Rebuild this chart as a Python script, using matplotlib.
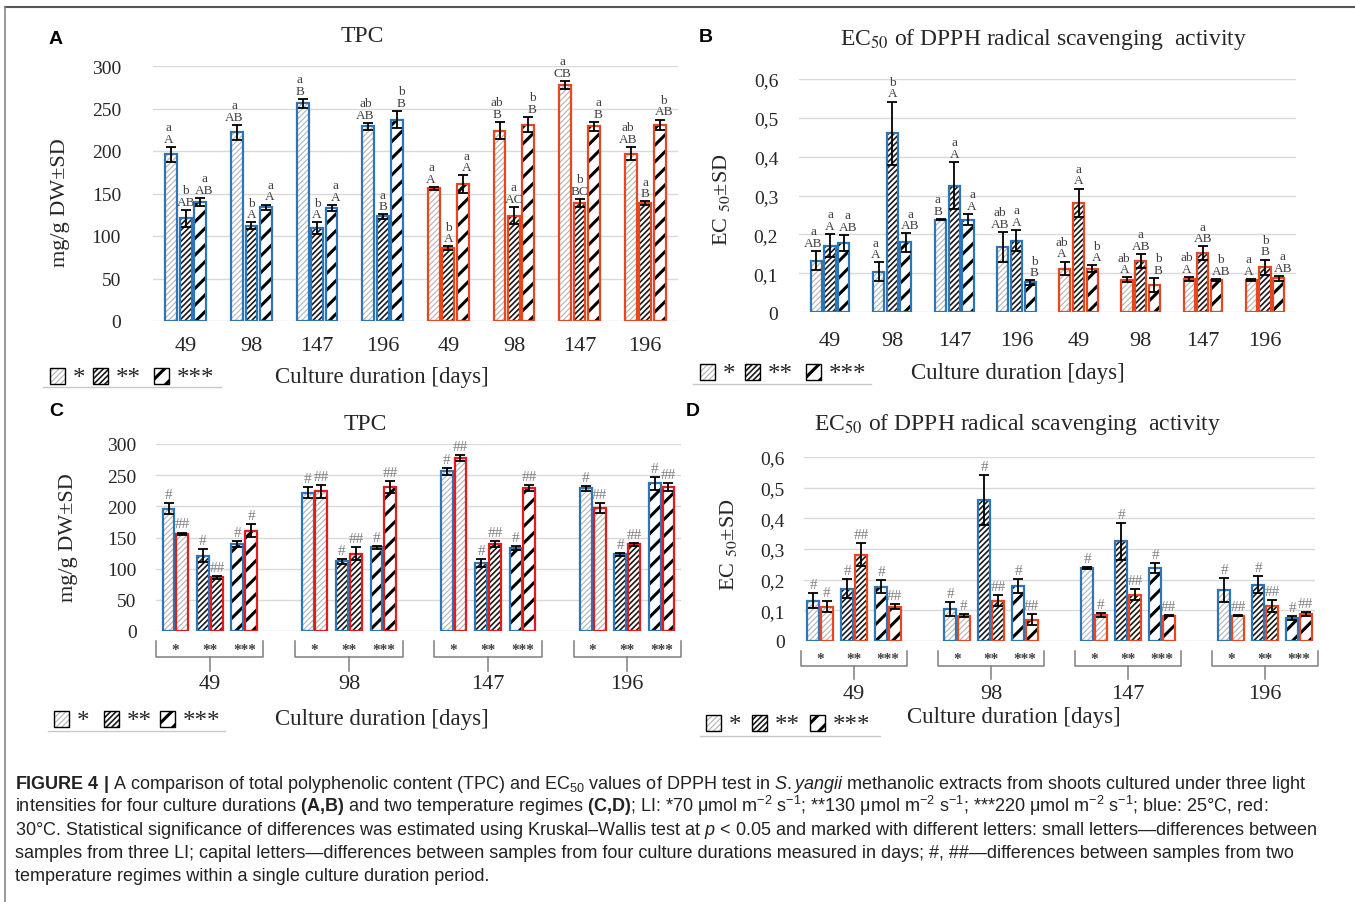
"""
Figure 4: TPC and EC50 (DPPH) of S. yangii shoot extracts, four panels + caption.
"""
import numpy as np
import matplotlib
matplotlib.use("Agg")
import matplotlib.pyplot as plt
import matplotlib.transforms as mtransforms
from matplotlib.patches import Rectangle
from matplotlib.lines import Line2D

plt.rcParams.update({
    "font.family": "Liberation Serif",
    "mathtext.rm": "Liberation Sans",
    "mathtext.it": "Liberation Sans:italic",
    "mathtext.bf": "Liberation Sans:bold",
})

# ---------------------------------------------------------------- data
days = ["49", "98", "147", "196"]
li_names = ["*", "**", "***"]

# rows = light intensity (*, **, ***), columns = culture duration
tpc_25 = [[196, 222, 256, 229], [121, 112, 109, 123], [140, 134, 133, 237]]
tpc_25_sd = [[9, 9, 5.5, 4], [10, 4, 7, 2.5], [5, 3, 3.5, 10]]
tpc_30 = [[156, 224, 278, 197], [86, 124, 139, 139], [161, 231, 229, 231]]
tpc_30_sd = [[2, 10, 4.5, 8], [2, 10, 5, 2], [10.5, 9, 5, 6]]

ec_25 = [[0.132, 0.104, 0.238, 0.167], [0.171, 0.46, 0.325, 0.184],
         [0.177, 0.179, 0.238, 0.076]]
ec_25_sd = [[0.025, 0.024, 0.002, 0.039], [0.03, 0.082, 0.061, 0.028],
            [0.021, 0.024, 0.015, 0.006]]
ec_30 = [[0.112, 0.083, 0.085, 0.083], [0.281, 0.132, 0.151, 0.115],
         [0.112, 0.07, 0.083, 0.087]]
ec_30_sd = [[0.018, 0.006, 0.006, 0.003], [0.037, 0.018, 0.018, 0.02],
            [0.008, 0.018, 0.003, 0.006]]

# significance letters (small: between LI, capital: between durations)
tpc_small_25 = [["a", "a", "a", "ab"], ["b", "b", "b", "a"], ["a", "a", "a", "b"]]
tpc_cap_25 = [["A", "AB", "B", "AB"], ["AB", "A", "A", "B"], ["AB", "A", "A", "B"]]
tpc_small_30 = [["a", "ab", "a", "ab"], ["b", "a", "b", "a"], ["a", "b", "a", "b"]]
tpc_cap_30 = [["A", "B", "CB", "AB"], ["A", "AC", "BC", "B"], ["A", "B", "B", "AB"]]
ec_small_25 = [["a", "a", "a", "ab"], ["a", "b", "a", "a"], ["a", "a", "a", "b"]]
ec_cap_25 = [["AB", "A", "B", "AB"], ["A", "A", "A", "A"], ["AB", "AB", "A", "B"]]
ec_small_30 = [["ab", "ab", "ab", "a"], ["a", "a", "a", "b"], ["b", "b", "b", "a"]]
ec_cap_30 = [["A", "A", "A", "A"], ["A", "AB", "AB", "B"], ["A", "B", "AB", "AB"]]

# temperature marks for panels C and D
tpc_mark_25 = [["#"] * 4, ["#"] * 4, ["#"] * 4]
tpc_mark_30 = [["##"] * 4, ["##"] * 4, ["#", "##", "##", "##"]]
ec_mark_25 = [["#"] * 4, ["#"] * 4, ["#"] * 4]
ec_mark_30 = [["#", "#", "#", "##"], ["##"] * 4, ["##"] * 4]

tpc_ticks = [0, 50, 100, 150, 200, 250, 300]
ec_ticks = [0, 0.1, 0.2, 0.3, 0.4, 0.5, 0.6]
ec_tick_labels = ["0", "0,1", "0,2", "0,3", "0,4", "0,5", "0,6"]

# ---------------------------------------------------------------- style
W, H = 1355, 903
BLUE = "#2E75B6"
RED_O = "#E8461E"
RED_C = "#E51A1A"
HATCH = [("//////", "#b3b3b3", 0.8), ("//////", "#1a1a1a", 1.2), ("//", "#000000", 2.2)]
LETTER_C = "#404040"
MARK_C = "#808080"
LETTER_DX = [-2.0, 0, 3.0]  # points, keeps neighbouring letter stacks apart

fig = plt.figure(figsize=(W / 100, H / 100), dpi=100)


def fxy(px, py):
    return px / W, 1 - py / H


def make_ax(l, r, t, b, ymax, yticks, ylabels, xlim):
    ax = fig.add_axes([l / W, 1 - b / H, (r - l) / W, (b - t) / H])
    ax.set_ylim(0, ymax)
    ax.set_xlim(*xlim)
    for s in ax.spines.values():
        s.set_visible(False)
    ax.set_yticks(yticks, ylabels)
    ax.grid(axis="y", color="#d9d9d9", lw=1.0)
    ax.set_axisbelow(True)
    ax.tick_params(length=0, colors="#262626")
    return ax


def hatched_bars(ax, x, h, width, li, edge):
    hp, hc, hlw = HATCH[li]
    with plt.rc_context({"hatch.linewidth": hlw}):
        bars = ax.bar(x, h, width, color="white", edgecolor=hc, hatch=hp, lw=0, zorder=2)
    for b in bars:
        if hasattr(b, "set_hatch_linewidth"):
            b.set_hatch_linewidth(hlw)
    ax.bar(x, h, width, fill=False, edgecolor=edge, lw=1.6, zorder=3)


def err(ax, x, h, sd):
    ax.errorbar(x, h, yerr=sd, fmt="none", ecolor="black", elinewidth=1.3,
                capsize=3.5, capthick=1.3, zorder=4)


def legend_row(boxes, yc, line):
    for (bx, li, lab) in zip(boxes, range(3), li_names):
        hp, hc, hlw = HATCH[li]
        x0, y0 = fxy(bx, yc + 8)
        with plt.rc_context({"hatch.linewidth": hlw}):
            p = Rectangle((x0, y0), 15 / W, 16 / H, transform=fig.transFigure,
                          facecolor="white", edgecolor=hc, hatch=hp, lw=0)
        if hasattr(p, "set_hatch_linewidth"):
            p.set_hatch_linewidth(hlw)
        fig.add_artist(p)
        fig.add_artist(Rectangle((x0, y0), 15 / W, 16 / H, transform=fig.transFigure,
                                 fill=False, edgecolor="black", lw=1.0))
        tx, ty = fxy(bx + 23, yc + 2)
        fig.text(tx, ty, lab, fontsize=18, va="center", ha="left", color="#262626")
    (x1, y1), (x2, _) = fxy(line[0], line[2]), fxy(line[1], line[2])
    fig.add_artist(Line2D([x1, x2], [y1, y1], color="#c8c8c8", lw=1.0))


def ftext(px, py, s, **kw):
    x, y = fxy(px, py)
    return fig.text(x, y, s, **kw)


# ---------------------------------------------------------------- panels A and B
def panel_ab(ax, v25, s25, v30, s30, small25, cap25, small30, cap30, red):
    offs = [-0.22, 0, 0.22]
    sets = [(v25, s25, small25, cap25, BLUE, 0), (v30, s30, small30, cap30, red, 4)]
    for vals, sds, sm, cp, col, shift in sets:
        for i in range(3):
            x = np.arange(4) + shift + offs[i]
            hatched_bars(ax, x, vals[i], 0.18, i, col)
            err(ax, x, vals[i], sds[i])
            for xi, v, sd, a, b in zip(x, vals[i], sds[i], sm[i], cp[i]):
                ax.annotate(f"{a}\n{b}", (xi, v + sd), xytext=(LETTER_DX[i], 1.5),
                            textcoords="offset points", ha="center", va="bottom",
                            fontsize=9.5, color=LETTER_C, linespacing=0.95,
                            multialignment="center", zorder=5)
    ax.set_xticks(np.arange(8), days + days)
    ax.tick_params(axis="x", labelsize=16, pad=11)


axA = make_ax(153, 678, 67, 322, 300, tpc_ticks, [str(t) for t in tpc_ticks], (-0.5, 7.5))
axA.tick_params(axis="y", labelsize=14, pad=23)
panel_ab(axA, tpc_25, tpc_25_sd, tpc_30, tpc_30_sd,
         tpc_small_25, tpc_cap_25, tpc_small_30, tpc_cap_30, RED_O)

axB = make_ax(799, 1296, 80, 313, 0.6, ec_ticks, ec_tick_labels, (-0.5, 7.5))
axB.tick_params(axis="y", labelsize=14, pad=15)
panel_ab(axB, ec_25, ec_25_sd, ec_30, ec_30_sd,
         ec_small_25, ec_cap_25, ec_small_30, ec_cap_30, RED_O)
axB.tick_params(axis="x", pad=14)


# ---------------------------------------------------------------- panels C and D
def panel_cd(ax, v25, s25, v30, s30, m25, m30, red, py0, ph, star_py, brace_py):
    offs = [-0.248, 0, 0.248]
    for i in range(3):
        for vals, sds, marks, col, dx in [(v25, s25, m25, BLUE, -0.05),
                                         (v30, s30, m30, red, 0.05)]:
            x = np.arange(4) + offs[i] + dx
            hatched_bars(ax, x, vals[i], 0.086, i, col)
            err(ax, x, vals[i], sds[i])
            for xi, v, sd, m in zip(x, vals[i], sds[i], marks[i]):
                ax.annotate(m, (xi, v + sd), xytext=(0, 1.5), textcoords="offset points",
                            ha="center", va="bottom", fontsize=11, color=MARK_C, zorder=5)
    tr = mtransforms.blended_transform_factory(ax.transData, ax.transAxes)

    def ay(py):
        return (py0 - py) / ph

    top, bot, stem = brace_py
    for g in range(4):
        xs = [g - 0.385, g - 0.385, g + 0.385, g + 0.385]
        ax.plot(xs, [ay(top), ay(bot), ay(bot), ay(top)], color="#7f7f7f", lw=1.1,
                transform=tr, clip_on=False, solid_joinstyle="round")
        ax.plot([g, g], [ay(bot), ay(stem)], color="#7f7f7f", lw=1.1,
                transform=tr, clip_on=False)
        for i in range(3):
            ax.text(g + offs[i], ay(star_py), li_names[i], transform=tr, ha="center",
                    va="center", fontsize=11, color="#404040", fontweight="bold")
    ax.set_xticks(np.arange(4), days)
    ax.tick_params(axis="x", labelsize=16, pad=31)


axC = make_ax(156, 681, 445, 632, 300, tpc_ticks, [str(t) for t in tpc_ticks],
              (-0.388, 3.388))
axC.tick_params(axis="y", labelsize=14, pad=14)
panel_cd(axC, tpc_25, tpc_25_sd, tpc_30, tpc_30_sd, tpc_mark_25, tpc_mark_30, RED_C,
         632, 187, 651, (642, 658, 672))

axD = make_ax(804, 1315, 458, 642, 0.6, ec_ticks, ec_tick_labels, (-0.365, 3.365))
axD.tick_params(axis="y", labelsize=14, pad=14)
panel_cd(axD, ec_25, ec_25_sd, ec_30, ec_30_sd, ec_mark_25, ec_mark_30, RED_O,
         642, 184, 660, (652, 667, 680))

# ---------------------------------------------------------------- titles, labels, legends
tk = dict(ha="center", va="center", color="#262626")
ftext(362, 36, "TPC", fontsize=17, **tk)
ftext(1044, 40, r"EC$_{50}$ of DPPH radical scavenging  activity", fontsize=17,
      math_fontfamily="stix", **tk)
ftext(365, 425, "TPC", fontsize=17, **tk)
ftext(1018, 425, r"EC$_{50}$ of DPPH radical scavenging  activity", fontsize=17,
      math_fontfamily="stix", **tk)

pk = dict(ha="center", va="center", fontsize=14, fontweight="bold",
          family="Liberation Sans", color="black")
ftext(56, 40, "A", **pk)
ftext(706, 37, "B", **pk)
ftext(56, 412, "C", **pk)
ftext(693, 412, "D", **pk)

yk = dict(ha="center", va="center", rotation=90, fontsize=16, color="#262626")
ftext(61, 203, "mg/g DW±SD", **yk)
ftext(721, 200, r"EC $_{50}$±SD", math_fontfamily="stix", **yk)
ftext(69, 538, "mg/g DW±SD", **yk)
ftext(728, 545, r"EC $_{50}$±SD", math_fontfamily="stix", **yk)

xk = dict(ha="center", va="center", fontsize=16.5, color="#262626")
ftext(382, 377, "Culture duration [days]", **xk)
ftext(1018, 373, "Culture duration [days]", **xk)
ftext(382, 720, "Culture duration [days]", **xk)
ftext(1014, 718, "Culture duration [days]", **xk)

legend_row([50, 93, 154], 377, (43, 221, 388))
legend_row([700, 745, 806], 373, (693, 871, 385))
legend_row([54, 104, 160], 720, (48, 225, 732))
legend_row([706, 752, 810], 724, (700, 880, 737))

# ---------------------------------------------------------------- frame and caption
fig.add_artist(Line2D([5 / W, 1], [1 - 8 / H, 1 - 8 / H], color="#555555", lw=1.5))
fig.add_artist(Line2D([5 / W, 5 / W], [0, 1 - 8 / H], color="#888888", lw=1.2))

caption = [
    r"$\mathbf{FIGURE\ 4\ |}$ A comparison of total polyphenolic content (TPC) and EC$_{50}$ "
    r"values of DPPH test in $\mathit{S.yangii}$ methanolic extracts from shoots cultured "
    r"under three light",
    r"intensities for four culture durations $\mathbf{(A{,}B)}$ and two temperature regimes "
    r"$\mathbf{(C{,}D)}$; LI: *70 μmol m$^{-2}$ s$^{-1}$; **130 μmol m$^{-2}$ s$^{-1}$; "
    r"***220 μmol m$^{-2}$ s$^{-1}$; blue: 25°C, red:",
    r"30°C. Statistical significance of differences was estimated using Kruskal–Wallis test "
    r"at $p$ < 0.05 and marked with different letters: small letters—differences between",
    "samples from three LI; capital letters—differences between samples from four culture "
    "durations measured in days; #, ##—differences between samples from two",
    "temperature regimes within a single culture duration period.",
]
for k, line in enumerate(caption):
    ftext(15, 789 + 23 * k, line, ha="left", va="baseline", fontsize=13.0,
          family="Liberation Sans", math_fontfamily="custom", color="#222222")

fig.savefig("out.png", dpi=100)
